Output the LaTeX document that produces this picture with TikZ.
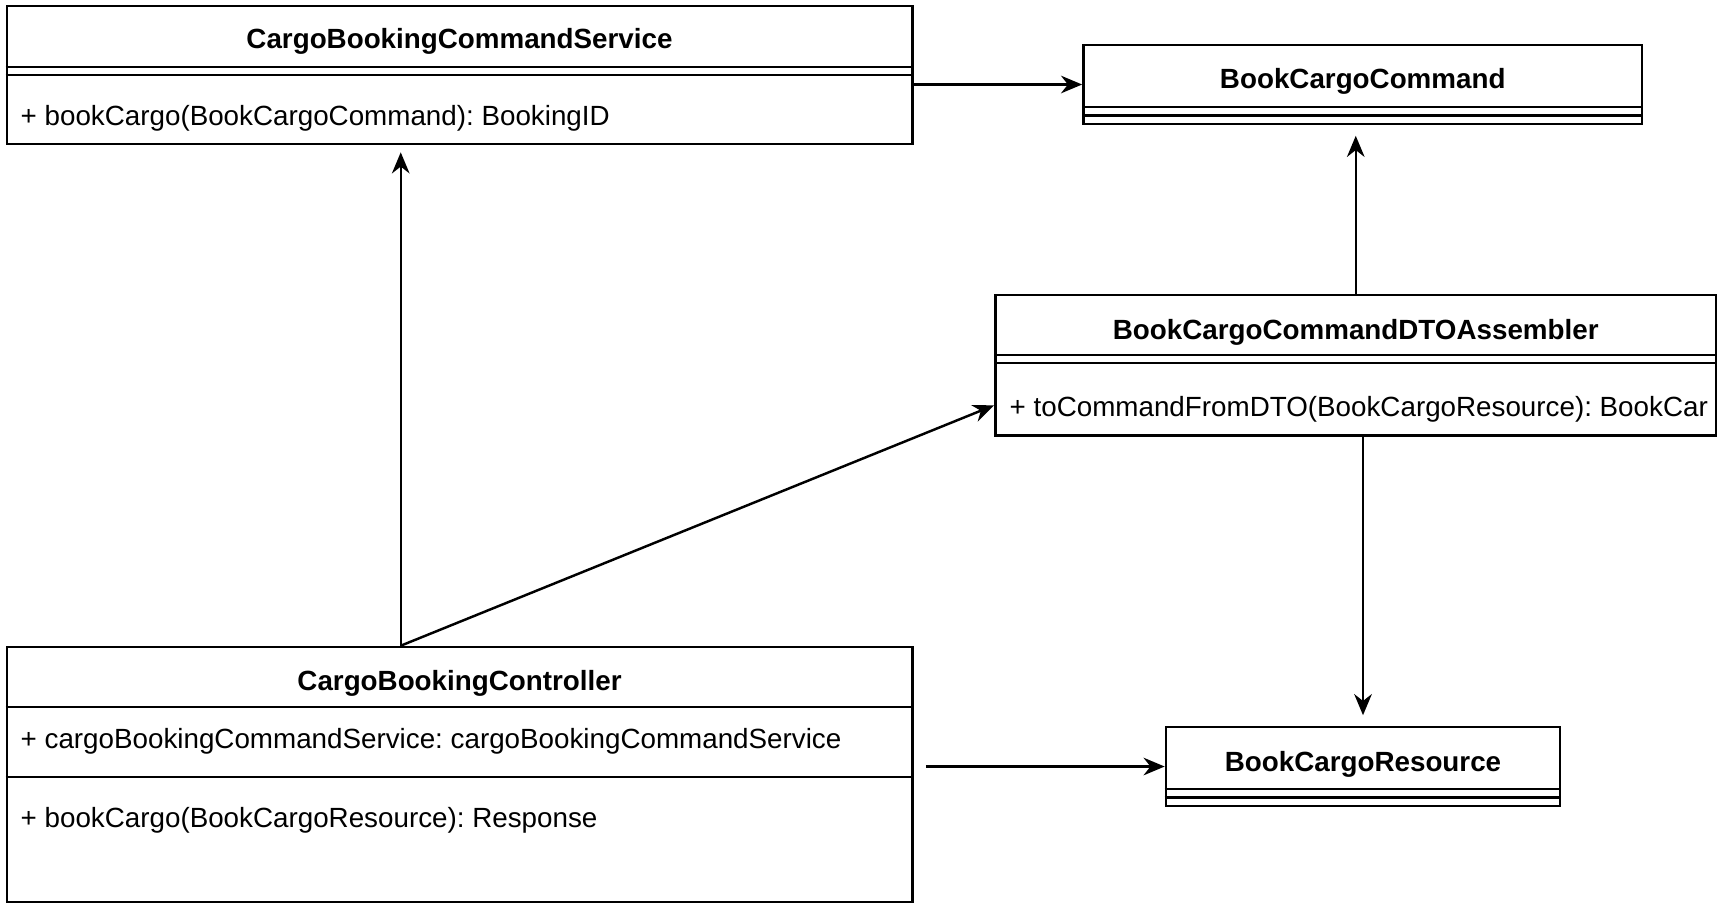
\documentclass[tikz,border=0pt]{standalone}
\usepackage{fontspec}
\setmainfont{Liberation Sans}
\usetikzlibrary{arrows.meta}
\frenchspacing
\tikzset{
	cls/.style={draw,line width=0.7pt,rectangle,inner sep=0pt},
	ttl/.style={font=\fontsize{7.9}{9.5}\selectfont\bfseries,inner sep=0pt},
	mem/.style={font=\fontsize{7.9}{9.5}\selectfont,anchor=west,inner sep=0pt},
	sep/.style={line width=0.7pt},
	arr/.style={-{Stealth[length=6pt,width=5pt]},line width=0.7pt}
}
\begin{document}
\begin{tikzpicture}[x=0.01cm,y=-0.01cm]
		\useasboundingbox (0,0) rectangle (1725,911);
		% class boxes
		\node[cls,minimum width=9.05cm,minimum height=1.38cm] (svc) at (459.5,75) {};
		\node[cls,minimum width=5.585cm,minimum height=0.79cm] (cmd) at (1362.75,84.5) {};
		\node[cls,minimum width=7.205cm,minimum height=1.406cm] (asm) at (1355.75,365.3) {};
		\node[cls,minimum width=9.05cm,minimum height=2.55cm] (ctrl) at (459.5,774.5) {};
		\node[cls,minimum width=3.94cm,minimum height=0.79cm] (res) at (1363,766.5) {};
		% compartments
		\draw[sep] (svc.west |- 0,67) -- (svc.east |- 0,67);
		\draw[sep] (svc.west |- 0,75) -- (svc.east |- 0,75);
		\draw[sep] (cmd.west |- 0,107) -- (cmd.east |- 0,107);
		\draw[sep] (cmd.west |- 0,115.5) -- (cmd.east |- 0,115.5);
		\draw[sep] (asm.west |- 0,355) -- (asm.east |- 0,355);
		\draw[sep] (asm.west |- 0,363) -- (asm.east |- 0,363);
		\draw[sep] (ctrl.west |- 0,707) -- (ctrl.east |- 0,707);
		\draw[sep] (ctrl.west |- 0,777) -- (ctrl.east |- 0,777);
		\draw[sep] (res.west |- 0,789) -- (res.east |- 0,789);
		\draw[sep] (res.west |- 0,797.5) -- (res.east |- 0,797.5);
		% titles and members
		\node[ttl] (svct) at (459.5,41.5) {CargoBookingCommandService};
		\node[mem] (svcm) at (20,118.5) {+ bookCargo(BookCargoCommand): BookingID};
		\node[ttl] (cmdt) at (1362.75,81) {BookCargoCommand};
		\node[ttl] (asmt) at (1355.75,332) {BookCargoCommandDTOAssembler};
		\node[mem] (asmm) at (1009,409) {+ toCommandFromDTO(BookCargoResource): BookCar};
		\node[ttl] (ctrlt) at (459.5,683) {CargoBookingController};
		\node[mem] (ctrla) at (20,741) {+ cargoBookingCommandService: cargoBookingCommandService};
		\node[mem] (ctrlm) at (20,820) {+ bookCargo(BookCargoResource): Response};
		\node[ttl] (rest) at (1363,764) {BookCargoResource};
		% dependencies
		\coordinate (hub) at ([xshift=3.95cm]ctrl.north west);
		\draw[arr] (svc.east |- cmd.west) -- (cmd.west);
		\draw[arr,shorten >=2pt] (hub) -- (hub |- svc.south);
		\draw[arr] (hub) -- ([yshift=-0.4cm]asm.west);
		\draw[arr,shorten >=3pt] (asm.north) -- (asm.north |- cmd.south);
		\draw[arr,shorten >=3pt] (res.north |- asm.south) -- (res.north);
		\draw[arr,shorten <=3.5pt] (ctrl.east |- res.west) -- (res.west);
	\end{tikzpicture}
\end{document}
